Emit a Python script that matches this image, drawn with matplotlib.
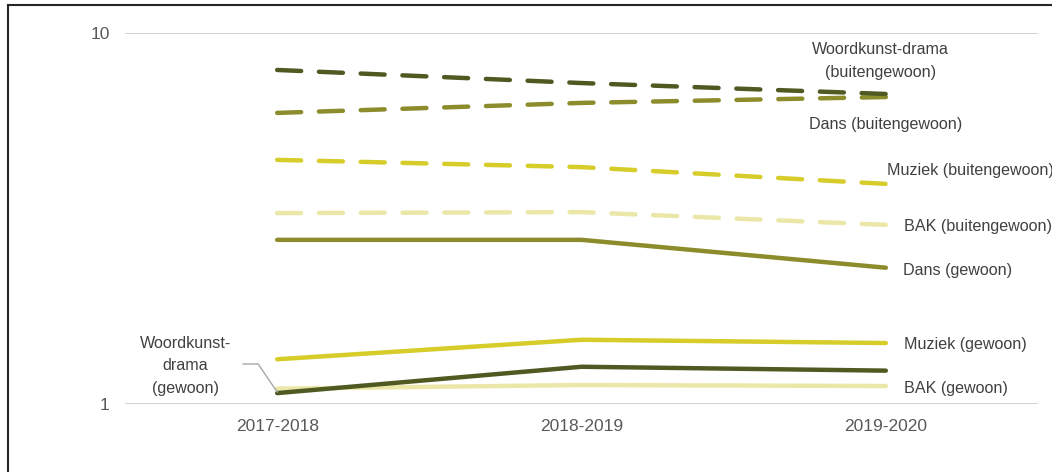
import matplotlib.pyplot as plt
from matplotlib.lines import Line2D

years = ["2017-2018", "2018-2019", "2019-2020"]

woord_buiten = [7.95, 7.33, 6.85]
dans_buiten = [6.09, 6.48, 6.72]
muziek_buiten = [4.55, 4.35, 3.92]
bak_buiten = [3.27, 3.29, 3.04]
dans_gewoon = [2.77, 2.77, 2.33]
muziek_gewoon = [1.32, 1.49, 1.46]
woord_gewoon = [1.07, 1.26, 1.23]
bak_gewoon = [1.10, 1.125, 1.118]

DARK = "#4f5a23"
OLIVE = "#8c8c2c"
YELLOW = "#d6cc2a"
PALE = "#ebe7a8"

plt.rcParams['font.family'] = ['Liberation Sans', 'DejaVu Sans']

fig = plt.figure(figsize=(10.52, 4.72), dpi=100)
ax = fig.add_axes([125 / 1052, 68 / 472, 913 / 1052, 371 / 472])

x = range(len(years))
lw = 3.2
dash = dict(linestyle=(0, (5.4, 4.0)), dash_capstyle='round')
ax.plot(x, bak_buiten, color=PALE, lw=lw, **dash)
ax.plot(x, muziek_buiten, color=YELLOW, lw=lw, **dash)
ax.plot(x, dans_buiten, color=OLIVE, lw=lw, **dash)
ax.plot(x, woord_buiten, color=DARK, lw=lw, **dash)
ax.plot(x, bak_gewoon, color=PALE, lw=lw, solid_capstyle='round')
ax.plot(x, muziek_gewoon, color=YELLOW, lw=lw, solid_capstyle='round')
ax.plot(x, dans_gewoon, color=OLIVE, lw=lw, solid_capstyle='round')
ax.plot(x, woord_gewoon, color=DARK, lw=lw, solid_capstyle='round')

ax.set_yscale('log')
ax.set_ylim(1, 10)
ax.set_xlim(-0.5, 2.5)
ax.set_yticks([1, 10])
ax.set_yticklabels(["1", "10"])
ax.minorticks_off()
ax.set_xticks(list(x))
ax.set_xticklabels(years)
ax.tick_params(length=0, labelsize=12.5, colors="#595959")
ax.tick_params(axis='x', pad=11)
ax.tick_params(axis='y', pad=11)
for s in ax.spines.values():
    s.set_visible(False)
for yv in [1, 10]:
    ax.axhline(yv, color="#d0d0d0", lw=1.3, zorder=0)


def pos(px, py):
    # pixel position in the reference -> data coordinates
    return (px - 277) / 304.0, 10 ** ((404 - py) / 371.0)


txt = dict(fontsize=11.6, color="#404040", va='center')
ax.text(*pos(880, 61), "Woordkunst-drama\n(buitengewoon)", ha='center',
        linespacing=1.62, clip_on=False, **txt)
ax.text(*pos(808, 125), "Dans (buitengewoon)", ha='left', clip_on=False, **txt)
ax.text(*pos(886, 171), "Muziek (buitengewoon)", ha='left', clip_on=False, **txt)
ax.text(*pos(903, 226), "BAK (buitengewoon)", ha='left', clip_on=False, **txt)
ax.text(*pos(902, 270), "Dans (gewoon)", ha='left', clip_on=False, **txt)
ax.text(*pos(903, 345), "Muziek (gewoon)", ha='left', clip_on=False, **txt)
ax.text(*pos(903, 388), "BAK (gewoon)", ha='left', clip_on=False, **txt)
ax.text(*pos(185, 366), "Woordkunst-\ndrama\n(gewoon)", ha='center',
        linespacing=1.62, clip_on=False, **txt)

lx, ly = zip(pos(243, 364), pos(258, 364), pos(277, 392))
ax.plot(lx, ly, color="#a6a6a6", lw=1.0, clip_on=False)

# outer frame (left and top edges visible)
fig.add_artist(Line2D([7.5 / 1052, 7.5 / 1052], [0, 1 - 5 / 472], color="#262626", lw=1.5))
fig.add_artist(Line2D([7.5 / 1052, 1], [1 - 5 / 472, 1 - 5 / 472], color="#262626", lw=1.5))

fig.savefig("out.png", dpi=100)
